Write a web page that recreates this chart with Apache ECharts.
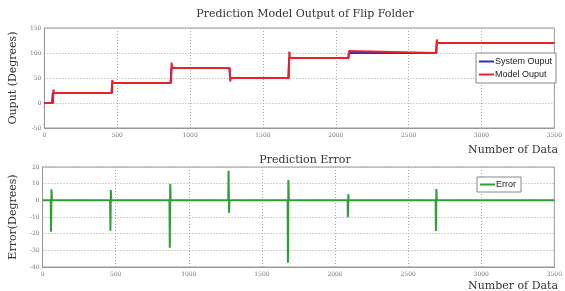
<!DOCTYPE html>
<html><head><meta charset="utf-8">
<script src="https://cdn.jsdelivr.net/npm/echarts@6/dist/echarts.min.js"></script>
<style>html,body{margin:0;padding:0;background:#fff}#c{width:565px;height:291px}</style>
</head><body><div id="c"></div>
<script>
// System output (blue) breakpoints
const sysX = [0, 52, 58, 460, 466, 866, 872, 1270, 1275, 1674, 1680, 2086, 2090, 2688, 2693, 3500];
const sysY = [0, 0, 20, 20, 40, 40, 70, 70, 50, 50, 90, 90, 100, 100, 120, 120];
// Model output (red) breakpoints
const modX = [0, 60, 62, 66, 464, 466, 470, 870, 873, 877, 1272, 1275, 1279, 1678, 1681, 1685, 2088, 2091, 2095, 2690, 2693, 2697, 3500];
const modY = [0, 0, 27, 20, 20, 46, 40, 40, 81, 70, 70, 43, 50, 50, 103, 90, 90, 104, 100, 100, 127, 120, 120];
// Prediction error (green) breakpoints
const errX = [0, 56, 58, 61, 64, 462, 464, 467, 470, 868, 870, 873, 876, 1270, 1272, 1275, 1278, 1676, 1678, 1681, 1684, 2086, 2088, 2091, 2094, 2688, 2690, 2693, 2696, 3500];
const errY = [0, 0, -18.8, 6.6, 0, 0, -18.2, 6.2, 0, 0, -28.4, 9.8, 0, 0, 17.8, -7.4, 0, 0, -37.4, 12.2, 0, 0, -10.2, 3.6, 0, 0, -18.4, 6.8, 0, 0];
// Axis settings
const xTicks = [0, 3500, 500];
const yTop = [-50, 150, 50];
const yBot = [-40, 20, 10];

const pair = (xs, ys) => xs.map((x, i) => [x, ys[i]]);
const serif = '"DejaVu Serif","Liberation Serif",serif';
const tickLbl = {fontSize: 6, color: '#777', fontFamily: serif, formatter: v => String(v)};
const split = {show: true, lineStyle: {type: [1, 2], color: '#aaa', width: 1}};
const axLine = {show: true, onZero: false, lineStyle: {color: '#999'}};

function xAx(gi) {
  return {type: 'value', gridIndex: gi, min: xTicks[0], max: xTicks[1], interval: xTicks[2],
    axisLine: axLine, axisTick: {show: false}, axisLabel: Object.assign({margin: 4}, tickLbl), splitLine: split};
}
function yAx(gi, r, name) {
  return {type: 'value', gridIndex: gi, min: r[0], max: r[1], interval: r[2],
    name: name, nameLocation: 'middle', nameGap: 19,
    nameTextStyle: {fontFamily: serif, fontSize: 11, color: '#333'},
    axisLine: axLine, axisTick: {show: false}, axisLabel: Object.assign({margin: 3}, tickLbl), splitLine: split};
}
const chart = echarts.init(document.getElementById('c'), null, {renderer: 'canvas'});
chart.setOption({
  animation: false,
  backgroundColor: '#fff',
  title: [
    {text: 'Prediction Model Output of Flip Folder', left: 300, textAlign: 'center', top: 4,
      textStyle: {fontFamily: serif, fontSize: 11, fontWeight: 'normal', color: '#333'}},
    {text: 'Prediction Error', left: 300, textAlign: 'center', top: 150,
      textStyle: {fontFamily: serif, fontSize: 11, fontWeight: 'normal', color: '#333'}},
    {text: 'Number of Data', right: 2, top: 140,
      textStyle: {fontFamily: serif, fontSize: 11, fontWeight: 'normal', color: '#333'}},
    {text: 'Number of Data', right: 2, top: 276,
      textStyle: {fontFamily: serif, fontSize: 11, fontWeight: 'normal', color: '#333'}}
  ],
  grid: [
    {left: 35, right: 3, top: 28, height: 100, show: true, borderColor: '#999', borderWidth: 1},
    {left: 35, right: 3, top: 167, height: 100, show: true, borderColor: '#999', borderWidth: 1}
  ],
  legend: [
    {data: ['System Ouput', 'Model Ouput'], orient: 'vertical', left: 476, top: 53,
      backgroundColor: '#fff', borderColor: '#888', borderWidth: 1, padding: [4, 4, 4, 3], itemGap: 4,
      icon: 'rect', itemWidth: 15, itemHeight: 2,
      textStyle: {fontFamily: '"Liberation Sans",Arial,sans-serif', fontSize: 9, color: '#222', padding: [0, 0, 0, -4]}},
    {data: ['Error'], left: 477, top: 177,
      backgroundColor: '#fff', borderColor: '#888', borderWidth: 1, padding: [3, 5, 3, 3],
      icon: 'rect', itemWidth: 15, itemHeight: 2,
      textStyle: {fontFamily: '"Liberation Sans",Arial,sans-serif', fontSize: 9, color: '#222', padding: [0, 0, 0, -4]}}
  ],
  xAxis: [xAx(0), xAx(1)],
  yAxis: [yAx(0, yTop, 'Ouput (Degrees)'), yAx(1, yBot, 'Error(Degrees)')],
  series: [
    {name: 'System Ouput', type: 'line', xAxisIndex: 0, yAxisIndex: 0, data: pair(sysX, sysY),
      symbol: 'none', color: '#2a2ad8', lineStyle: {width: 2, color: '#2a2ad8'}},
    {name: 'Model Ouput', type: 'line', xAxisIndex: 0, yAxisIndex: 0, data: pair(modX, modY),
      symbol: 'none', color: '#ec2226', lineStyle: {width: 2, color: '#ec2226'}},
    {name: 'Error', type: 'line', xAxisIndex: 1, yAxisIndex: 1, data: pair(errX, errY),
      symbol: 'none', color: '#2f9e34', lineStyle: {width: 2, color: '#2f9e34'}}
  ]
});
</script></body></html>
